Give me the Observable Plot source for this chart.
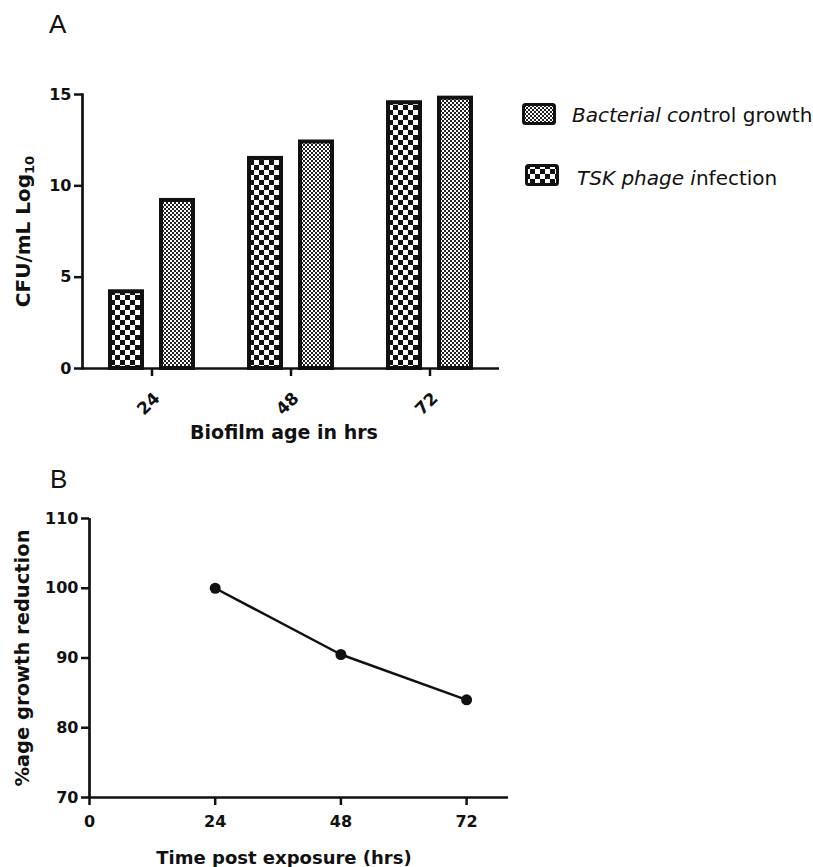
<!DOCTYPE html>
<html><head><meta charset="utf-8">
<script src="https://cdn.jsdelivr.net/npm/d3@7"></script>
<script src="https://cdn.jsdelivr.net/npm/@observablehq/plot@0.6"></script>
<style>
body{margin:0;background:#fff;}
#wrap{position:relative;width:813px;height:867px;overflow:hidden;background:#fff;}
.panel-label{position:absolute;font-family:"Liberation Sans",Arial,sans-serif;font-size:26px;color:#111;line-height:26px;}
#chartA{position:absolute;left:0;top:0;}
#chartB{position:absolute;left:0;top:460px;}
.leg{position:absolute;font-family:"DejaVu Sans",sans-serif;font-size:20px;line-height:20px;white-space:nowrap;color:#111;}
.sw{position:absolute;}
</style></head>
<body>
<svg width="0" height="0" style="position:absolute">
  <defs>
    <pattern id="coarse" patternUnits="userSpaceOnUse" width="10" height="10">
      <rect width="10" height="10" fill="#fff"/>
      <rect width="5" height="5" fill="#111"/>
      <rect x="5" y="5" width="5" height="5" fill="#111"/>
    </pattern>
    <pattern id="fine" patternUnits="userSpaceOnUse" width="4" height="4">
      <rect width="4" height="4" fill="#fff"/>
      <rect width="2" height="2" fill="#222"/>
      <rect x="2" y="2" width="2" height="2" fill="#222"/>
    </pattern>
  </defs>
</svg>
<div id="wrap">
  <div id="chartA"></div>
  <div id="chartB"></div>
  <div class="panel-label" style="left:49px;top:11px;">A</div>
  <div class="panel-label" style="left:50px;top:466px;">B</div>
  <svg class="sw" style="left:522px;top:103px;" width="34" height="22"><rect x="1.5" y="1.5" width="31" height="19" rx="2" fill="url(#fine)" stroke="#111" stroke-width="3"/></svg>
  <div class="leg" style="left:572px;top:105px;"><i>Bacterial con</i>trol growth</div>
  <svg class="sw" style="left:525px;top:164px;" width="34" height="22"><rect x="1.5" y="1.5" width="31" height="19" rx="2" fill="url(#coarse)" stroke="#111" stroke-width="3"/></svg>
  <div class="leg" style="left:577px;top:168px;"><i>TSK phage i</i>nfection</div>
</div>
<script>
// ---- Panel A data ----
const ages = ["24", "48", "72"];
const series = ["TSK phage infection", "Bacterial control growth"];
const tskValues = [4.2, 11.5, 14.55];
const controlValues = [9.2, 12.4, 14.8];
const yTicksA = [0, 5, 10, 15];

// ---- Panel B data ----
const hours = [24, 48, 72];
const reduction = [100, 90.5, 84];
const xTicksB = [0, 24, 48, 72];
const yTicksB = [70, 80, 90, 100, 110];

const barData = ages.flatMap((a, i) => [
  {age: a, series: series[0], value: tskValues[i]},
  {age: a, series: series[1], value: controlValues[i]}
]);
const lineData = hours.map((h, i) => ({hours: h, value: reduction[i]}));

const ink = "#111";
const baseStyle = {fontFamily: "'DejaVu Sans', sans-serif", fontWeight: "bold", fontSize: "16px", color: ink, background: "transparent", overflow: "visible"};

const chartA = Plot.plot({
  width: 520, height: 460,
  marginLeft: 82, marginRight: 21, marginTop: 94, marginBottom: 92,
  style: baseStyle,
  fx: {domain: ages, padding: 0, axis: null},
  x: {domain: series, paddingInner: 0.365, paddingOuter: 0.52, axis: null},
  y: {domain: [0, 15]},
  color: {domain: series, range: ["url(#coarse)", "url(#fine)"]},
  marks: [
    Plot.barY(barData, {fx: "age", x: "series", y: "value", fill: "series", stroke: ink, strokeWidth: 4}),
    Plot.ruleY([0], {stroke: ink, strokeWidth: 2.7}),
    Plot.frame({anchor: "left", facetAnchor: "left", stroke: ink, strokeWidth: 2.7}),
    Plot.axisY({ticks: yTicksA, tickSize: 8, tickPadding: 3, strokeWidth: 2.5,
      label: "CFU/mL Log10", labelAnchor: "center", labelOffset: 67, labelArrow: "none"}),
    Plot.axisFx({anchor: "bottom", tickSize: 8, strokeWidth: 2.5, tickFormat: () => "", label: null}),
    Plot.axisFx({anchor: "bottom", tickSize: 0, tickRotate: -45, tickPadding: 27, dx: 5, fontSize: 17,
      label: "Biofilm age in hrs", labelAnchor: "center", labelOffset: 70, labelArrow: "none"})
  ]
});

const chartB = Plot.plot({
  width: 520, height: 407,
  marginLeft: 89, marginRight: 12, marginTop: 58, marginBottom: 70,
  style: baseStyle,
  x: {domain: [0, 80]},
  y: {domain: [70, 110]},
  marks: [
    Plot.ruleX([0], {stroke: ink, strokeWidth: 2.7}),
    Plot.ruleY([70], {stroke: ink, strokeWidth: 2.7}),
    Plot.axisY({ticks: yTicksB, tickSize: 8, tickPadding: 3, strokeWidth: 2.5,
      label: "%age growth reduction", labelAnchor: "center", labelOffset: 74, labelArrow: "none"}),
    Plot.axisX({ticks: xTicksB, tickSize: 8, tickPadding: 10, strokeWidth: 2.5,
      label: "Time post exposure (hrs)", labelAnchor: "center", labelOffset: 66, labelArrow: "none"}),
    Plot.line(lineData, {x: "hours", y: "value", stroke: ink, strokeWidth: 2.5}),
    Plot.dot(lineData, {x: "hours", y: "value", r: 5.5, fill: ink})
  ]
});

document.getElementById("chartA").appendChild(chartA);
document.getElementById("chartB").appendChild(chartB);

// axis label font sizes, offsets and subscript
const yLabA = d3.select(chartA).select('g[aria-label="y-axis label"]');
yLabA.attr("font-size", 20);
const tA = yLabA.select("text");
tA.text("CFU/mL Log");
tA.append("tspan").attr("dy", "0.3em").attr("font-size", "13").text("10");
d3.select(chartA).selectAll('g[aria-label="fx-axis label"]').attr("font-size", 19)
  .selectAll("text").attr("dx", -7);
d3.select(chartB).select('g[aria-label="y-axis label"]').attr("font-size", 19.5);
d3.select(chartB).select('g[aria-label="x-axis label"]').attr("font-size", 18)
  .selectAll("text").attr("dx", -15);
</script>
</body></html>
